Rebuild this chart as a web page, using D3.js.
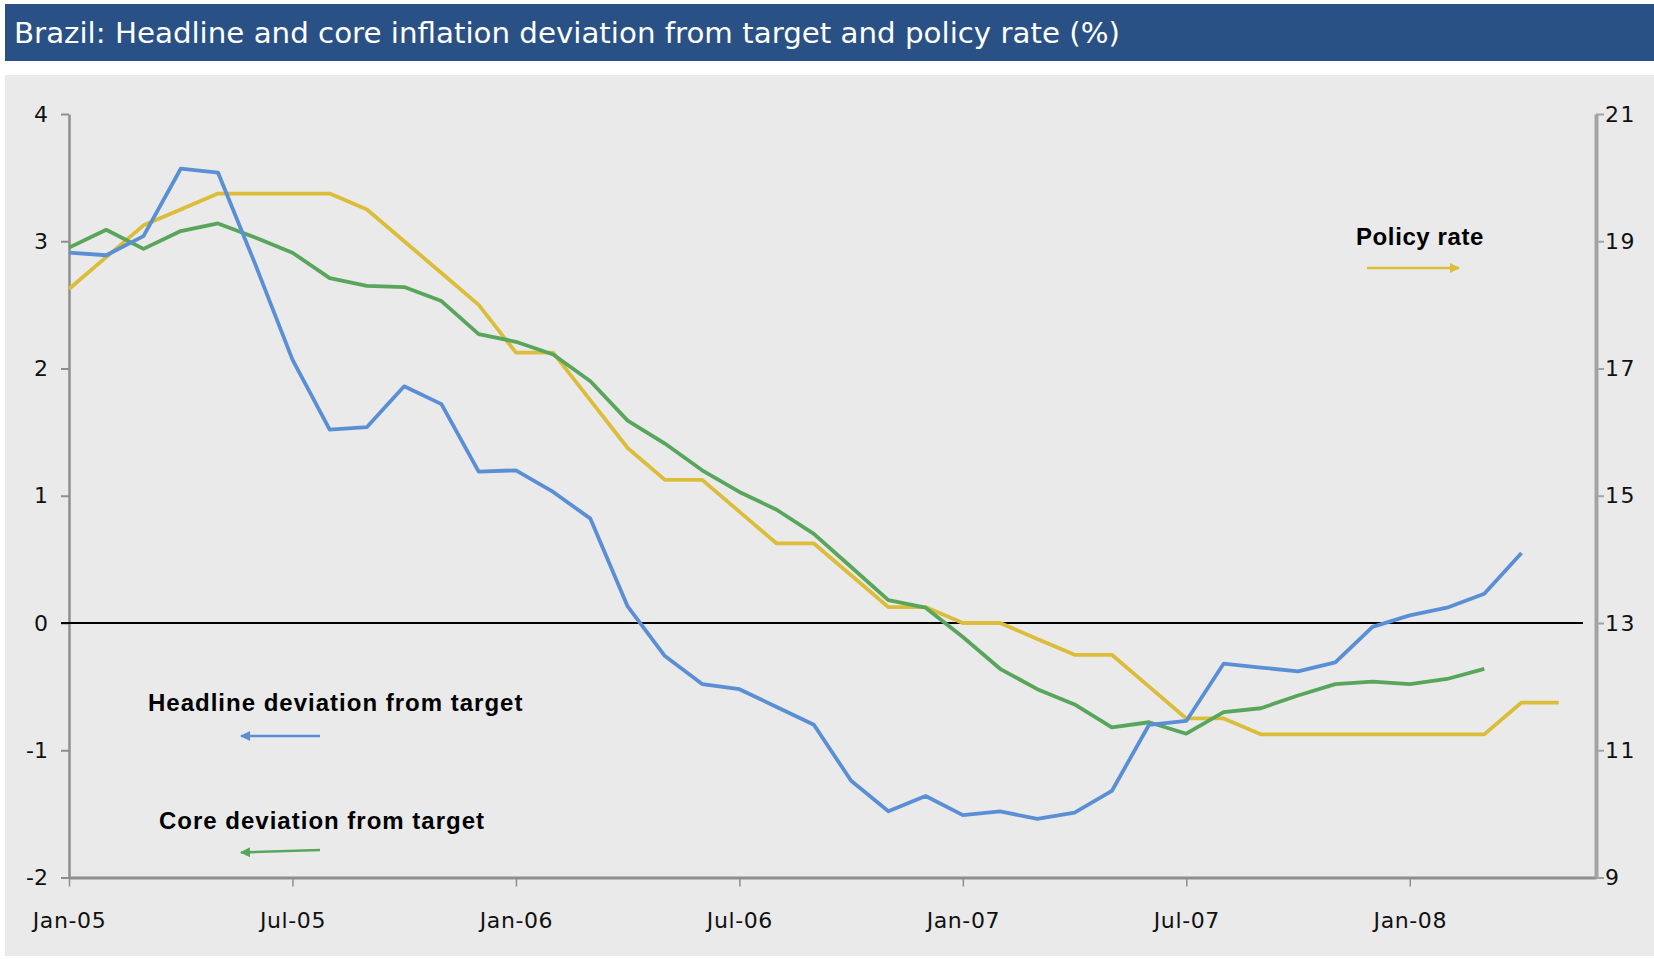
<!DOCTYPE html>
<html>
<head>
<meta charset="utf-8">
<script src="https://cdn.jsdelivr.net/npm/d3@7"></script>
<style>
  body { margin: 0; background: #fff; }
  svg { display: block; }
</style>
</head>
<body>
<div id="chart"></div>
<script>
// monthly data, starting Jan-05
const startYear = 2005
const lastMonth = 41 // axis runs to Jun-08

const headline = [2.91, 2.89, 3.04, 3.57, 3.54, 2.82, 2.07, 1.52, 1.54, 1.86, 1.72, 1.19,
  1.20, 1.03, 0.82, 0.13, -0.26, -0.48, -0.52, -0.66, -0.80, -1.24, -1.48, -1.36,
  -1.51, -1.48, -1.54, -1.49, -1.32, -0.80, -0.77, -0.32, -0.35, -0.38, -0.31, -0.03,
  0.06, 0.12, 0.23, 0.55]

const core = [2.95, 3.09, 2.94, 3.08, 3.14, 3.03, 2.91, 2.71, 2.65, 2.64, 2.53, 2.27,
  2.21, 2.11, 1.90, 1.59, 1.41, 1.20, 1.03, 0.89, 0.70, 0.44, 0.18, 0.12,
  -0.11, -0.36, -0.52, -0.64, -0.82, -0.78, -0.87, -0.70, -0.67, -0.57, -0.48, -0.46,
  -0.48, -0.44, -0.36]

const policyRate = [18.25, 18.75, 19.25, 19.5, 19.75, 19.75, 19.75, 19.75, 19.5, 19.0, 18.5, 18.0,
  17.25, 17.25, 16.5, 15.75, 15.25, 15.25, 14.75, 14.25, 14.25, 13.75, 13.25, 13.25,
  13.0, 13.0, 12.75, 12.5, 12.5, 12.0, 11.5, 11.5, 11.25, 11.25, 11.25, 11.25,
  11.25, 11.25, 11.25, 11.75, 11.75]

const xTicks = [0, 6, 12, 18, 24, 30, 36]
const leftTicks = [-2, -1, 0, 1, 2, 3, 4]
const rightTicks = [9, 11, 13, 15, 17, 19, 21]

const width = 1654
const height = 959
const plot = {left: 69, right: 1596, top: 114, bottom: 877.5}

const colors = {
  headline: "#5b8fd5",
  core: "#58a55c",
  policy: "#dcbd3a",
  axis: "#8e8e8e",
  bg: "#eaeaea",
  title: "#2a5185",
}

const svg = d3.select("#chart").append("svg")
  .attr("width", width)
  .attr("height", height)
  .style("font-family", "'DejaVu Sans', Verdana, sans-serif")

// panel + title bar
svg.append("rect")
  .attr("x", 5).attr("y", 75)
  .attr("width", width - 5).attr("height", 881)
  .attr("fill", colors.bg)

svg.append("rect")
  .attr("x", 5).attr("y", 4)
  .attr("width", width - 5).attr("height", 57)
  .attr("fill", colors.title)

svg.append("text")
  .attr("x", 14).attr("y", 43)
  .attr("fill", "#fff")
  .attr("font-size", 29)
  .attr("textLength", 1106)
  .attr("lengthAdjust", "spacingAndGlyphs")
  .text("Brazil: Headline and core inflation deviation from target and policy rate (%)")

const x = d3.scaleLinear().domain([0, lastMonth]).range([plot.left, plot.right])
const yLeft = d3.scaleLinear().domain([-2, 4]).range([plot.bottom, plot.top])
const yRight = d3.scaleLinear().domain([9, 21]).range([plot.bottom, plot.top])

const monthLabel = i => d3.utcFormat("%b-%y")(new Date(Date.UTC(startYear, i, 1)))
const plain = d => String(d) // keep ascii hyphen for negatives

// axes
const xAxis = svg.append("g")
  .attr("transform", `translate(0,${plot.bottom})`)
  .call(d3.axisBottom(x).tickValues(xTicks).tickFormat(monthLabel).tickSize(9).tickSizeOuter(0))
xAxis.select(".domain").attr("stroke", colors.axis).attr("stroke-width", 3)
xAxis.selectAll(".tick line").attr("stroke", colors.axis).attr("stroke-width", 1.5)
xAxis.selectAll(".tick text")
  .attr("y", 35)
  .attr("font-size", 22)
  .attr("letter-spacing", 0.6)
  .attr("fill", "#111")

const leftAxis = svg.append("g")
  .attr("transform", `translate(${plot.left},0)`)
  .call(d3.axisLeft(yLeft).tickValues(leftTicks).tickFormat(plain).tickSize(8).tickSizeOuter(0))
leftAxis.select(".domain").attr("stroke", colors.axis).attr("stroke-width", 2.5)
leftAxis.selectAll(".tick line").attr("stroke", colors.axis).attr("stroke-width", 2)
leftAxis.selectAll(".tick text")
  .attr("x", -21)
  .attr("font-size", 22)
  .attr("fill", "#111")

const rightAxis = svg.append("g")
  .attr("transform", `translate(${plot.right},0)`)
  .call(d3.axisRight(yRight).tickValues(rightTicks).tickFormat(plain).tickSize(8).tickSizeOuter(0))
rightAxis.select(".domain").attr("stroke", "#a3a3a3").attr("stroke-width", 4)
rightAxis.selectAll(".tick line").attr("stroke", "#a3a3a3").attr("stroke-width", 2)
rightAxis.selectAll(".tick text")
  .attr("x", 9)
  .attr("font-size", 22)
  .attr("letter-spacing", 1.5)
  .attr("fill", "#111")

svg.selectAll(".tick text").attr("font-family", "'DejaVu Sans', Verdana, sans-serif")

// zero line
svg.append("line")
  .attr("x1", plot.left - 8).attr("x2", plot.right - 13)
  .attr("y1", yLeft(0)).attr("y2", yLeft(0))
  .attr("stroke", "#000").attr("stroke-width", 2)

// series
const lineLeft = d3.line().x((d, i) => x(i)).y(d => yLeft(d))
const lineRight = d3.line().x((d, i) => x(i)).y(d => yRight(d))

svg.append("path").datum(policyRate)
  .attr("d", lineRight)
  .attr("fill", "none").attr("stroke", colors.policy).attr("stroke-width", 3.8)
  .attr("stroke-linejoin", "round")

svg.append("path").datum(core)
  .attr("d", lineLeft)
  .attr("fill", "none").attr("stroke", colors.core).attr("stroke-width", 3.8)
  .attr("stroke-linejoin", "round")

svg.append("path").datum(headline)
  .attr("d", lineLeft)
  .attr("fill", "none").attr("stroke", colors.headline).attr("stroke-width", 3.8)
  .attr("stroke-linejoin", "round")

// legend labels with arrows
const defs = svg.append("defs")
for (const [key, c] of Object.entries({headline: colors.headline, core: colors.core, policy: colors.policy})) {
  defs.append("marker")
    .attr("id", "arrow-" + key)
    .attr("viewBox", "0 0 10 10")
    .attr("refX", 9).attr("refY", 5)
    .attr("markerWidth", 4).attr("markerHeight", 4)
    .attr("orient", "auto")
    .append("path")
      .attr("d", "M0,0L10,5L0,10z")
      .attr("fill", c)
}

const notes = [
  {text: "Policy rate", x: 1356, y: 245, arrow: [1367, 268, 1459, 268], key: "policy", ls: 0.6},
  {text: "Headline deviation from target", x: 148, y: 711, arrow: [320, 736, 241, 736], key: "headline", ls: 1},
  {text: "Core deviation from target", x: 159, y: 829, arrow: [320, 850, 241, 852.5], key: "core", ls: 1},
]

for (const n of notes) {
  svg.append("text")
    .attr("x", n.x).attr("y", n.y)
    .attr("font-family", "'Liberation Sans', Arial, sans-serif")
    .attr("font-weight", "bold")
    .attr("font-size", 24)
    .attr("letter-spacing", n.ls)
    .attr("fill", "#000")
    .text(n.text)
  svg.append("line")
    .attr("x1", n.arrow[0]).attr("y1", n.arrow[1])
    .attr("x2", n.arrow[2]).attr("y2", n.arrow[3])
    .attr("stroke", colors[n.key]).attr("stroke-width", 2.5)
    .attr("marker-end", `url(#arrow-${n.key})`)
}
</script>
</body>
</html>
